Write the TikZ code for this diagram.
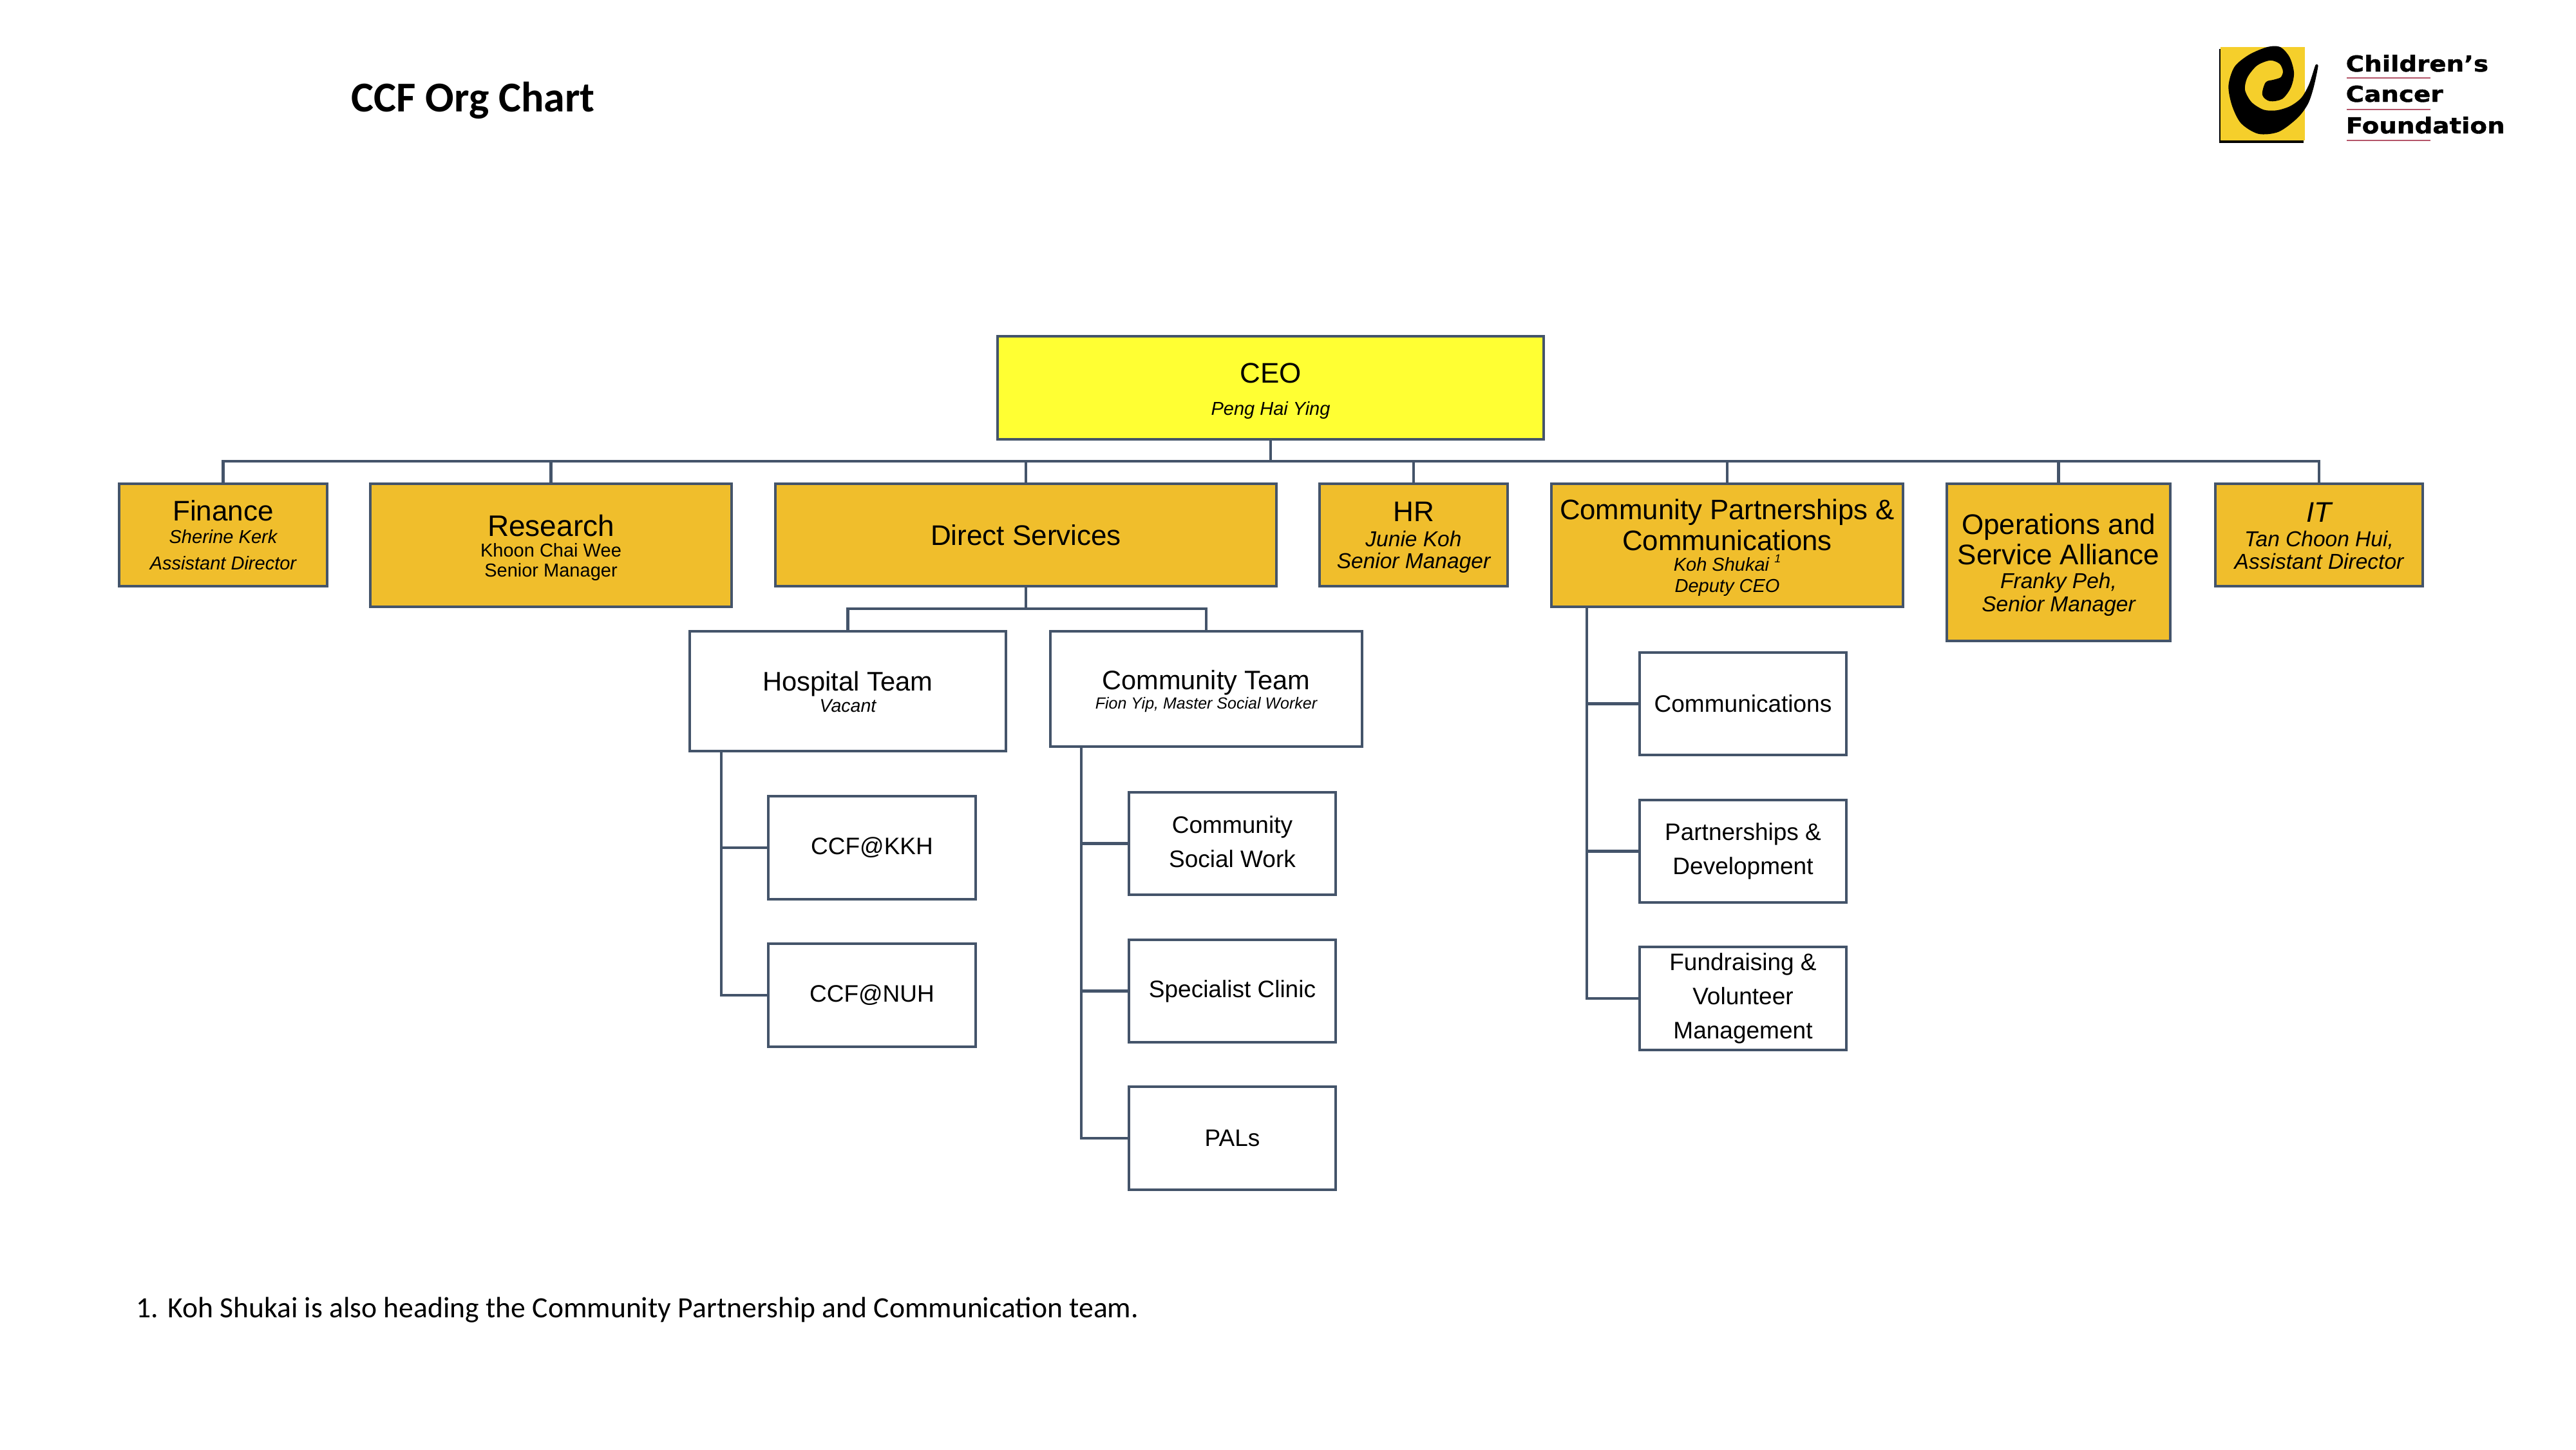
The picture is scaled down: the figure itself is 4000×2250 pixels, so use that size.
\documentclass[tikz,border=0pt]{standalone}
\usepackage{fontspec}
\setmainfont{Liberation Sans}
\newfontfamily\carlitofont{Carlito}
\newfontfamily\logofont[BoldFeatures={FakeBold=1.3,FakeStretch=1.14}]{DejaVu Sans}
\newlength\pxu \setlength\pxu{0.28453pt}
\definecolor{edgeblue}{HTML}{44546A}
\definecolor{goldfill}{HTML}{F0BE2C}
\definecolor{ceofill}{HTML}{FFFF33}
\definecolor{logoyellow}{HTML}{F5CF2B}
\definecolor{logored}{HTML}{B5566A}
% one text line: size, distance from previous baseline, text
\newcommand\tline[3]{\fontsize{#1\pxu}{#2\pxu}\selectfont\hbox to 0pt{\hss #3\hss}}
\newcommand\dn[1]{\kern#1\pxu}
\newcommand\tstack[1]{\vbox{\hsize=0pt\lineskiplimit=-1000pt\parindent=0pt #1}}
\tikzset{
  orgbox/.style={draw=edgeblue,line width=1.2pt,rectangle,inner sep=0pt,outer sep=0pt},
  ceobox/.style={orgbox,fill=ceofill},
  goldbox/.style={orgbox,fill=goldfill},
  whitebox/.style={orgbox,fill=white},
  conn/.style={draw=edgeblue,line width=1.2pt},
  logotext/.style={anchor=base west,inner sep=0pt,font=\logofont\bfseries\fontsize{34\pxu}{34\pxu}\selectfont},
  logoline/.style={draw=logored,line width=0.55pt}
}
% name, x1, y1, x2, y2, style, text
\newcommand\orgnode[7]{\node[#6,minimum width={(#4-#2-2)*0.01cm},minimum height={(#5-#3-2)*0.01cm}] (#1) at ({(#2+#4)/2},{(#3+#5)/2}) {\tstack{#7}};}
\begin{document}
\begin{tikzpicture}[x=0.01cm,y=-0.01cm]
\useasboundingbox (0,0) rectangle (4000,2250);

\node[anchor=base west,inner sep=0pt,font=\carlitofont\bfseries\fontsize{66\pxu}{70\pxu}\selectfont] (title) at (545,173) {CCF Org Chart};

% logo
\begin{scope}[shift={(3400,40)},xscale=0.357,yscale=0.3333]
  \fill[black] (128,108) rectangle (495,545);
  \fill[logoyellow] (135,98) rectangle (500,535);
  \filldraw[black,line width=1.2pt,line join=round] plot[smooth cycle,tension=0.5] coordinates {
    (553,185) (535,280) (510,360) (465,425) (385,488) (300,497) (228,450) (190,370) (175,280)
    (200,195) (262,140) (340,105) (392,105) (430,150) (448,220) (435,285) (400,335) (350,345)
    (322,320) (335,268) (365,258) (400,245) (412,212) (395,172) (350,155) (290,180) (246,238)
    (235,300) (265,360) (320,397) (380,400) (440,380) (490,340) (525,275)};
\end{scope}
\node[logotext] (lc1) at (3642,111) {Children’s};
\node[logotext] (lc2) at (3642,158) {Cancer};
\node[logotext] (lc3) at (3642,207) {Foundation};
\draw[logoline] (3644,121) -- (3774,121);
\draw[logoline] (3644,170) -- (3774,170);
\draw[logoline] (3644,218) -- (3774,218);

% top level
\orgnode{ceo}{1548}{521}{2398}{683}{ceobox}{\dn{10}\tline{44}{44}{CEO}\tline{29}{50}{\itshape Peng Hai Ying}}
\orgnode{fin}{184}{750}{509}{911}{goldbox}{\tline{44}{44}{Finance}\tline{29}{35}{\itshape Sherine Kerk}\tline{29}{41}{\itshape Assistant Director}}
\orgnode{res}{574}{750}{1137}{943}{goldbox}{\dn{7.5}\tline{46}{46}{Research}\tline{29}{31.5}{Khoon Chai Wee}\tline{29}{31}{Senior Manager}}
\orgnode{dir}{1203}{750}{1983}{911}{goldbox}{\tline{44}{44}{Direct Services}}
\orgnode{hr}{2048}{750}{2342}{911}{goldbox}{\dn{7.5}\tline{44}{44}{HR}\tline{33.5}{39}{\itshape Junie Koh}\tline{33.5}{33.5}{\itshape Senior Manager}}
\orgnode{cpc}{2408}{750}{2956}{943}{goldbox}{\dn{7.5}\tline{43.7}{44}{Community Partnerships \&}\tline{43.7}{48}{Communications}\tline{29}{31.5}{\itshape Koh Shukai \raisebox{0.45em}{\fontsize{18\pxu}{18\pxu}\selectfont 1}}\tline{29}{33}{\itshape Deputy CEO}}
\orgnode{ops}{3022}{750}{3371}{996}{goldbox}{\dn{7.5}\tline{44}{44}{Operations and}\tline{44}{47}{Service Alliance}\tline{33.5}{36.5}{\itshape Franky Peh,}\tline{33.5}{36}{\itshape Senior Manager}}
\orgnode{itd}{3439}{750}{3763}{911}{goldbox}{\dn{2.5}\tline{44}{44}{\itshape IT}\tline{33.5}{37.5}{\itshape Tan Choon Hui,}\tline{33.5}{35}{\itshape Assistant Director}}

% direct services
\orgnode{hosp}{1070}{979}{1563}{1167}{whitebox}{\dn{2.5}\tline{41.7}{42}{Hospital Team}\tline{28.5}{32.5}{\itshape Vacant}}
\orgnode{comt}{1630}{979}{2116}{1160}{whitebox}{\dn{7.5}\tline{41.5}{42}{Community Team}\tline{25}{29.5}{\itshape Fion Yip, Master Social Worker}}
\orgnode{kkh}{1192}{1235}{1516}{1397}{whitebox}{\tline{37}{37}{CCF@KKH}}
\orgnode{nuh}{1192}{1464}{1516}{1626}{whitebox}{\tline{37}{37}{CCF@NUH}}
\orgnode{csw}{1752}{1229}{2075}{1390}{whitebox}{\tline{37}{37}{Community}\tline{37}{53}{Social Work}\dn{5}}
\orgnode{spc}{1752}{1458}{2075}{1619}{whitebox}{\tline{37}{37}{Specialist Clinic}}
\orgnode{pal}{1752}{1686}{2075}{1848}{whitebox}{\tline{37}{37}{PALs}}

% community partnerships
\orgnode{com}{2545}{1012}{2868}{1173}{whitebox}{\tline{37}{37}{Communications}}
\orgnode{pad}{2545}{1241}{2868}{1402}{whitebox}{\tline{37}{37}{Partnerships \&}\tline{37}{53}{Development}}
\orgnode{fvm}{2545}{1469}{2868}{1631}{whitebox}{\tline{37}{37}{Fundraising \&}\tline{37}{53}{Volunteer}\tline{37}{53}{Management}}

% connectors
\coordinate (bus) at (1973,716);
\coordinate (subbus) at (1593,945);
\coordinate (hstem) at (1120,1166);
\coordinate (cstem) at (1679,1159);
\coordinate (pstem) at (2464,942);
\foreach \kid in {fin,res,dir,hr,cpc,ops,itd}
  \draw[conn] (ceo.south) -- (ceo.south |- bus) -| (\kid.north);
\foreach \kid in {hosp,comt}
  \draw[conn] (dir.south) -- (dir.south |- subbus) -| (\kid.north);
\foreach \kid in {kkh,nuh}
  \draw[conn] (hstem) |- (\kid.west);
\foreach \kid in {csw,spc,pal}
  \draw[conn] (cstem) |- (\kid.west);
\foreach \kid in {com,pad,fvm}
  \draw[conn] (pstem) |- (\kid.west);

\node[anchor=base west,inner sep=0pt,font=\carlitofont\fontsize{45.6\pxu}{50\pxu}\selectfont] (note) at (211,2045) {1. Koh Shukai is also heading the Community Partnership and Communication team.};
\end{tikzpicture}
\end{document}
